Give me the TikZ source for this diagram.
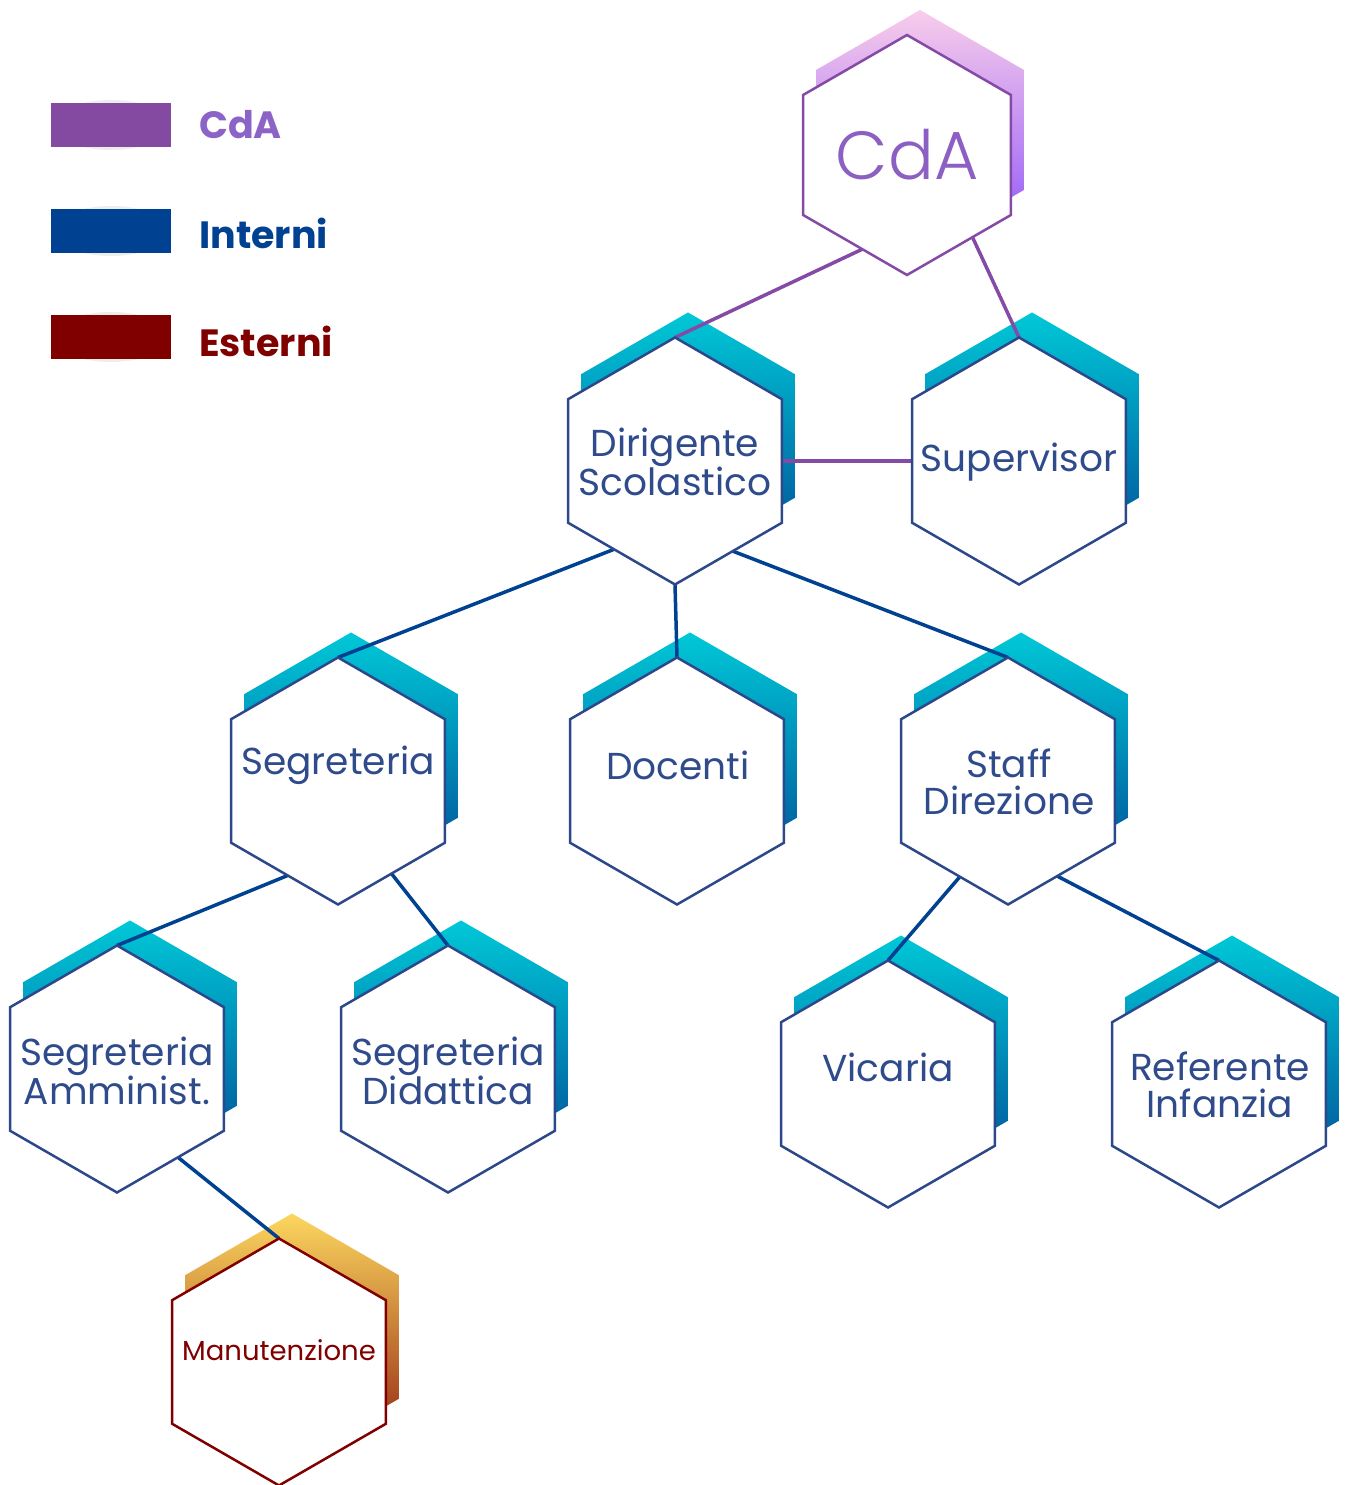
\documentclass[tikz,border=0pt]{standalone}
\usepackage{fontspec}
\setmainfont{Poppins}
\newfontfamily\poplight{Poppins Light}
\usetikzlibrary{calc}
\definecolor{hexborder}{RGB}{45,72,138}
\definecolor{hextext}{RGB}{47,75,140}
\definecolor{linkblue}{RGB}{0,65,145}
\definecolor{linkpurple}{RGB}{132,74,165}
\definecolor{cdaborder}{RGB}{132,74,165}
\definecolor{cdatext}{RGB}{140,95,195}
\definecolor{manborder}{RGB}{128,0,0}
\definecolor{legpurple}{RGB}{132,74,162}
\definecolor{legblue}{RGB}{0,65,145}
\definecolor{legred}{RGB}{128,0,0}
\definecolor{legcdatext}{RGB}{140,100,200}
\definecolor{cyantop}{RGB}{0,200,215}
\definecolor{cyanbot}{RGB}{0,75,150}
\definecolor{pinktop}{RGB}{248,205,235}
\definecolor{pinkbot}{RGB}{140,80,250}
\definecolor{goldtop}{RGB}{252,215,95}
\definecolor{goldbot}{RGB}{140,25,10}
\newcommand{\HexDef}[4]{% name, x, y (image), radius
  \coordinate (#1) at (#2,1485-#3);
  \path (#1) +(90:#4) coordinate (#1-t) +(150:#4) coordinate (#1-ul)
    +(210:#4) coordinate (#1-ll) +(270:#4) coordinate (#1-b)
    +(330:#4) coordinate (#1-lr) +(30:#4) coordinate (#1-ur);
  \path ($(#1)+(13,25)$) coordinate (#1-s);
}
\newcommand{\HexShadow}[3]{% name, radius, style
  \shade[#3] (#1-s) +(90:#2) -- +(150:#2) -- +(210:#2) -- +(270:#2) -- +(330:#2) -- +(30:#2) -- cycle;
}
\newcommand{\HexMain}[3]{% name, radius, style
  \draw[#3] (#1) +(90:#2) -- +(150:#2) -- +(210:#2) -- +(270:#2) -- +(330:#2) -- +(30:#2) -- cycle;
}
\tikzset{
  cyanshade/.style={top color=cyantop, bottom color=cyanbot},
  pinkshade/.style={top color=pinktop, bottom color=pinkbot},
  goldshade/.style={top color=goldtop, bottom color=goldbot},
  bluehex/.style={draw=hexborder, line width=2.5pt, fill=white, line join=miter},
  cdahex/.style={draw=cdaborder, line width=2.5pt, fill=white},
  manhex/.style={draw=manborder, line width=2.5pt, fill=white},
  bluelink/.style={draw=linkblue, line width=3.5pt},
  purplelink/.style={draw=linkpurple, line width=3.5pt},
  hexlabel/.style={text=hextext, font=\fontsize{37.5}{37}\selectfont, align=center, inner sep=0pt},
  legbox/.style={minimum width=120pt, minimum height=44pt, inner sep=0pt},
  legtext/.style={font=\bfseries\fontsize{38}{40}\selectfont, anchor=west, inner sep=0pt},
}
\begin{document}
\begin{tikzpicture}[x=1pt,y=1pt]
\useasboundingbox (0,0) rectangle (1349,1485);
% geometry
\HexDef{cda}{907}{155}{120}
\HexDef{dir}{675}{461}{123.5}
\HexDef{sup}{1019}{461}{123.5}
\HexDef{sgr}{338}{781}{123.5}
\HexDef{doc}{677}{781}{123.5}
\HexDef{stf}{1008}{781}{123.5}
\HexDef{amm}{117}{1069}{123.5}
\HexDef{did}{448}{1069}{123.5}
\HexDef{vic}{888}{1084}{123.5}
\HexDef{ref}{1219}{1084}{123.5}
\HexDef{man}{279}{1362}{123.5}
% shadows
\HexShadow{cda}{120}{pinkshade}
\foreach \n in {dir,sup,sgr,doc,stf,amm,did,vic,ref}{\HexShadow{\n}{123.5}{cyanshade}}
\HexShadow{man}{123.5}{goldshade}
% connectors
\draw[purplelink] ($(cda-b)!0.43!(cda-ll)$) -- (dir-t);
\draw[purplelink] ($(cda-b)!0.63!(cda-lr)$) -- (sup-t);
\draw[purplelink] ($(dir-ur)!0.5!(dir-lr)$) -- ($(sup-ul)!0.5!(sup-ll)$);
\draw[bluelink] ($(dir-b)!0.57!(dir-ll)$) -- (sgr-t);
\draw[bluelink] (dir-b) -- (doc-t);
\draw[bluelink] ($(dir-b)!0.54!(dir-lr)$) -- (stf-t);
\draw[bluelink] ($(sgr-b)!0.47!(sgr-ll)$) -- (amm-t);
\draw[bluelink] ($(sgr-b)!0.5!(sgr-lr)$) -- (did-t);
\draw[bluelink] ($(stf-b)!0.45!(stf-ll)$) -- (vic-t);
\draw[bluelink] ($(stf-b)!0.46!(stf-lr)$) -- (ref-t);
\draw[bluelink] ($(amm-b)!0.57!(amm-lr)$) -- (man-t);
% main hexagons
\HexMain{cda}{120}{cdahex}
\foreach \n in {dir,sup,sgr,doc,stf,amm,did,vic,ref}{\HexMain{\n}{123.5}{bluehex}}
\HexMain{man}{123.5}{manhex}
% labels
\node[text=cdatext, font=\poplight\fontsize{68}{70}\selectfont, inner sep=0pt] (cdalabel) at (907,1485-155) {CdA};
\node[hexlabel] (dirlabel) at (675,1485-462) {Dirigente\\Scolastico};
\node[hexlabel] (suplabel) at (1019,1485-462) {Supervisor};
\node[hexlabel] (sgrlabel) at (338,1485-765) {Segreteria};
\node[hexlabel] (doclabel) at (678,1485-765) {Docenti};
\node[hexlabel] (stflabel) at (1009,1485-782) {Staff\\Direzione};
\node[hexlabel] (ammlabel) at (117,1485-1071) {Segreteria\\Amminist.};
\node[hexlabel] (didlabel) at (448,1485-1071) {Segreteria\\Didattica};
\node[hexlabel] (viclabel) at (888,1485-1067) {Vicaria};
\node[hexlabel] (reflabel) at (1220,1485-1085) {Referente\\Infanzia};
\node[text=manborder, font=\fontsize{27.5}{30}\selectfont, inner sep=0pt] (manlabel) at (279,1485-1350) {Manutenzione};
% legend
\foreach \y/\c/\nm in {125/legpurple/l1, 231/legblue/l2, 337/legred/l3}{
  \fill[black!7] (111,1485-\y) ellipse [x radius=58pt, y radius=25pt];
  \node[legbox, fill=\c] (\nm) at (111,1485-\y) {};
}
\node[legtext, text=legcdatext] (l1text) at (199,1485-125) {CdA};
\node[legtext, text=legblue] (l2text) at (199,1485-233) {Interni};
\node[legtext, text=legred] (l3text) at (199,1485-341) {Esterni};
\end{tikzpicture}
\end{document}
